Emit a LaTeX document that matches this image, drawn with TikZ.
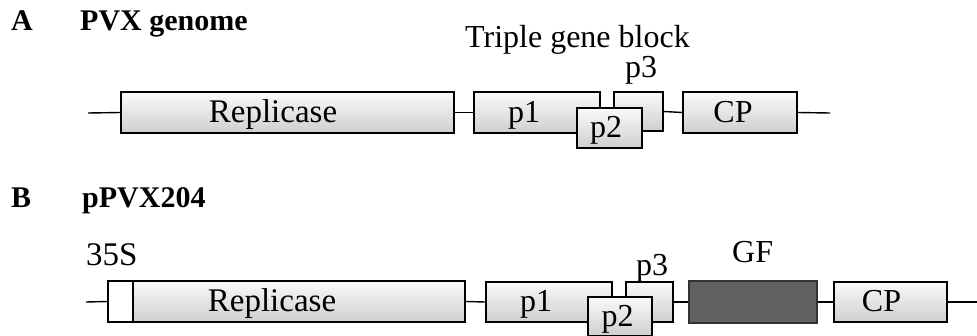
\documentclass[tikz,border=0pt]{standalone}
\usepackage{fontspec}
\setmainfont{Liberation Serif}
\begin{document}
\begin{tikzpicture}[x=1pt,y=-1pt,
  every node/.style={font=\fontsize{32}{36}\selectfont},
  gene/.style={draw=black, line width=1.6pt, top color=gray!4, bottom color=gray!38, inner sep=0pt, text height=22pt, text depth=3pt},
  promoter/.style={draw=black, line width=1.6pt, fill=white, inner sep=0pt},
  insert/.style={draw=black!80, line width=1.6pt, fill=black!62, inner sep=0pt},
  bb/.style={line width=1.4pt},
  lbl/.style={inner sep=0pt, anchor=base west},
  boldlbl/.style={inner sep=0pt, anchor=base west, font=\fontsize{30}{34}\selectfont\bfseries},
]
\useasboundingbox (0,0) rectangle (977,335);

% ---------- Panel A ----------
\node[boldlbl] (labA) at (11,30) {A};
\node[boldlbl] (titA) at (80,30) {PVX genome};
\node[lbl] (tgb) at (465,47) {Triple gene block};
\node[lbl] (p3lA) at (625,77) {p3};

\coordinate (startA) at (88,113);
\coordinate (endA) at (830,113);
\node[gene, minimum width=333pt, minimum height=41pt, font=\fontsize{33}{36}\selectfont] (repA) at (287.5,112.5) {Replicase\kern29pt};
\node[gene, minimum width=126pt, minimum height=41pt] (p1A) at (537,112.5) {p1\kern26pt};
\node[gene, minimum width=49pt, minimum height=39pt] (p3A) at (638.5,111.5) {};
\node[gene, minimum width=65pt, minimum height=40pt] (p2A) at (609.5,128) {p2\kern7pt};
\node[gene, minimum width=114pt, minimum height=41pt] (cpA) at (740,112.5) {CP\kern14pt};

\draw[bb] (startA) -- (repA.west);
\draw[bb] (repA.east) -- (p1A.west);
\draw[bb] (p3A.east) -- (cpA.west);
\draw[bb] (cpA.east) -- (endA);

% ---------- Panel B ----------
\node[boldlbl] (labB) at (11,207) {B};
\node[boldlbl] (titB) at (82,207) {pPVX204};
\node[lbl, font=\fontsize{33}{36}\selectfont] (s35l) at (86,265) {35S};
\node[lbl] (p3lB) at (636,275) {p3};
\node[lbl] (gfl) at (732,262) {GF};

\coordinate (startB) at (86,302);
\coordinate (endB) at (977,302);
\node[promoter, minimum width=25pt, minimum height=41pt] (s35) at (120.5,301.5) {};
\node[gene, minimum width=332pt, minimum height=41pt, font=\fontsize{33}{36}\selectfont] (repB) at (299,301.5) {Replicase\kern54pt};
\node[gene, minimum width=126pt, minimum height=40pt] (p1B) at (549,302) {p1\kern26pt};
\node[gene, minimum width=47pt, minimum height=40pt] (p3B) at (649.5,302) {};
\node[gene, minimum width=64pt, minimum height=39pt] (p2B) at (620,316.5) {p2\kern5pt};
\node[insert, minimum width=128pt, minimum height=42pt] (gf) at (753,302) {};
\node[gene, minimum width=113pt, minimum height=40pt] (cpB) at (890.5,302) {CP\kern18pt};

\draw[bb] (startB) -- (s35.west);
\draw[bb] (repB.east) -- (p1B.west);
\draw[bb] (p3B.east) -- (gf.west);
\draw[bb] (gf.east) -- (cpB.west);
\draw[bb] (cpB.east) -- (endB);
\end{tikzpicture}
\end{document}
